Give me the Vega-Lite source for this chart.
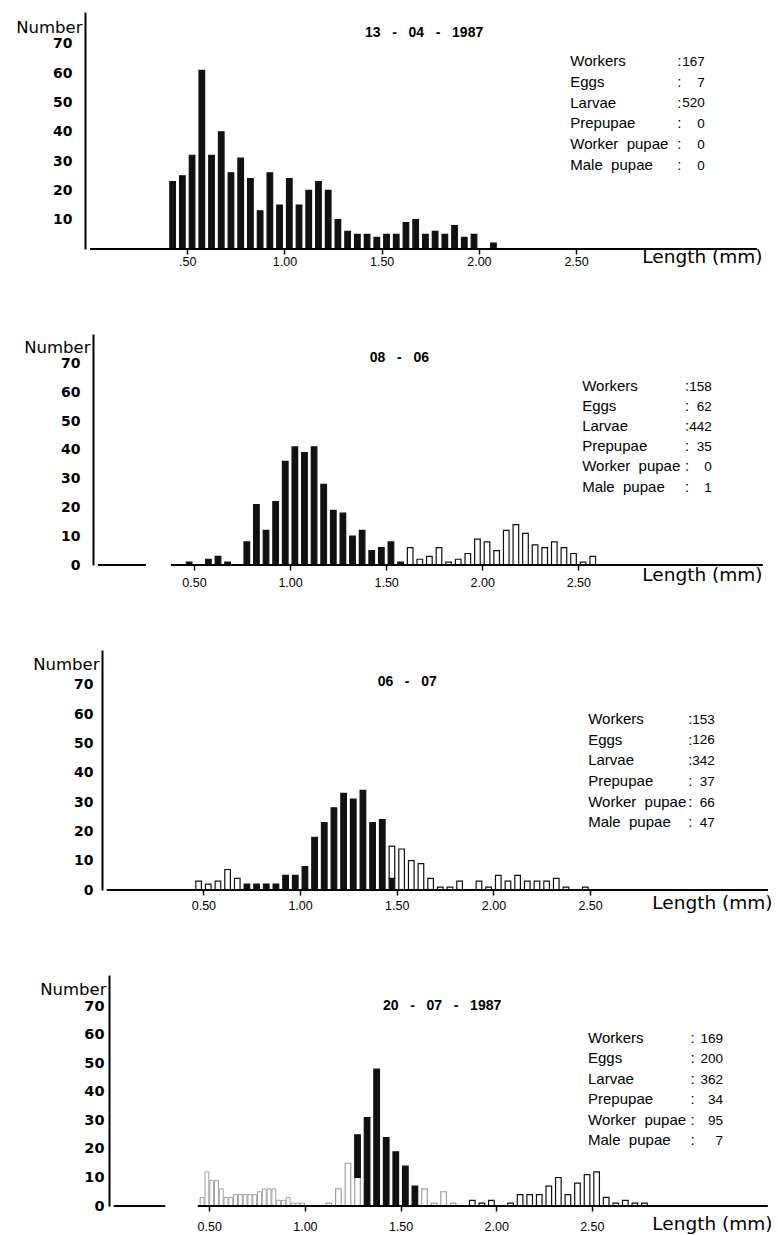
{
  "$schema": "https://vega.github.io/schema/vega-lite/v6.json",
  "padding": {"left": 15, "top": 12, "right": 0, "bottom": 4},
  "background": "white",
  "vconcat": [
    {
      "width": 688, "height": 237,
      "layer": [
        {
          "data": {"name": "p1"},
          "mark": {"type": "bar", "size": 5.6, "strokeWidth": 1.2},
          "encoding": {
            "x": {"field": "mid", "type": "quantitative", "scale": {"domain": [0, 3.487], "nice": false, "zero": false},
              "axis": {"title": "Length (mm)", "titleX": 677, "titleY": 7, "titleAlign": "right", "titleBaseline": "middle", "titleFont": "DejaVu Sans", "titleFontSize": 18.5, "titleFontWeight": "normal", "values": [0.5, 1, 1.5, 2, 2.5], "tickCount": 20, "labelExpr": "datum.value == 0.5 ? '.50' : format(datum.value, '.2f')", "labelFont": "Liberation Sans", "labelFontSize": 12.5, "labelPadding": 1, "labelFlush": false, "labelOverlap": false, "tickSize": 5, "tickWidth": 1.5, "domain": false}},
            "y": {"field": "n", "type": "quantitative", "stack": "zero", "scale": {"domain": [0, 80.89], "nice": false},
              "axis": {"title": "Number", "titleAngle": 0, "titleAlign": "right", "titleBaseline": "middle", "titleX": -3, "titleY": 15, "titleFont": "DejaVu Sans", "titleFontSize": 16.5, "titleFontWeight": "normal", "values": [10, 20, 30, 40, 50, 60, 70], "tickCount": 20, "labelFont": "DejaVu Sans", "labelFontWeight": "bold", "labelFontSize": 14, "labelPadding": 13, "labelFlush": false, "labelOverlap": false, "ticks": false, "domainWidth": 2, "offset": 0}},
            "fill": {"field": "stage", "type": "nominal", "scale": {"domain": ["larvae", "pupae", "pale"], "range": ["#111111", "#ffffff", "#ffffff"]}, "legend": null},
            "stroke": {"field": "stage", "type": "nominal", "scale": {"domain": ["larvae", "pupae", "pale"], "range": ["#111111", "#111111", "#a0a0a0"]}, "legend": null},
            "order": {"field": "stage", "sort": "ascending"}
          }
        },
        {
          "data": {"values": [{"from": 0, "to": 3.43}]},
          "mark": {"type": "rule", "strokeWidth": 2, "color": "#000000"},
          "encoding": {
            "x": {"field": "from", "type": "quantitative", "scale": {"domain": [0, 3.487], "nice": false, "zero": false}},
            "x2": {"field": "to"},
            "y": {"datum": 0, "type": "quantitative", "scale": {"domain": [0, 80.89], "nice": false}}
          }
        },
        {
          "data": {"name": "s1"},
          "mark": {"type": "text", "align": "left", "baseline": "middle", "font": "Liberation Sans", "fontWeight": "bold", "fontSize": 14, "color": "#000"},
          "encoding": {
            "x": {"datum": 1.414, "type": "quantitative", "scale": {"domain": [0, 3.487], "nice": false, "zero": false}},
            "y": {"datum": 73.6, "type": "quantitative", "scale": {"domain": [0, 80.89], "nice": false}},
            "text": {"field": "date"}
          }
        },
        {
          "data": {"name": "s1"},
          "mark": {"type": "text", "align": "left", "baseline": "top", "font": "Liberation Sans", "fontSize": 15, "lineBreak": "\n", "lineHeight": 20.7, "color": "#000"},
          "encoding": {
            "x": {"datum": 2.47, "type": "quantitative", "scale": {"domain": [0, 3.487], "nice": false, "zero": false}},
            "y": {"datum": 66.5, "type": "quantitative", "scale": {"domain": [0, 80.89], "nice": false}},
            "text": {"field": "labels"}
          }
        },
        {
          "data": {"name": "s1"},
          "mark": {"type": "text", "align": "left", "baseline": "top", "font": "Liberation Sans", "fontSize": 15, "lineBreak": "\n", "lineHeight": 20.7, "color": "#000"},
          "encoding": {
            "x": {"datum": 3.02, "type": "quantitative", "scale": {"domain": [0, 3.487], "nice": false, "zero": false}},
            "y": {"datum": 66.5, "type": "quantitative", "scale": {"domain": [0, 80.89], "nice": false}},
            "text": {"field": "colons"}
          }
        },
        {
          "data": {"name": "s1"},
          "mark": {"type": "text", "align": "right", "baseline": "top", "font": "Liberation Sans", "fontSize": 13.5, "lineBreak": "\n", "lineHeight": 20.7, "color": "#000"},
          "encoding": {
            "x": {"datum": 3.162, "type": "quantitative", "scale": {"domain": [0, 3.487], "nice": false, "zero": false}},
            "y": {"datum": 66.2, "type": "quantitative", "scale": {"domain": [0, 80.89], "nice": false}},
            "text": {"field": "counts"}
          }
        }
      ]
    },
    {
      "width": 688, "height": 231,
      "layer": [
        {
          "data": {"name": "p2"},
          "mark": {"type": "bar", "size": 5.6, "strokeWidth": 1.2},
          "encoding": {
            "x": {"field": "mid", "type": "quantitative", "scale": {"domain": [-0.041, 3.487], "nice": false, "zero": false},
              "axis": {"title": "Length (mm)", "titleX": 677, "titleY": 9, "titleAlign": "right", "titleBaseline": "middle", "titleFont": "DejaVu Sans", "titleFontSize": 18.5, "titleFontWeight": "normal", "values": [0.5, 1, 1.5, 2, 2.5], "tickCount": 20, "format": ".2f", "labelFont": "Liberation Sans", "labelFontSize": 12.5, "labelPadding": 6, "labelFlush": false, "labelOverlap": false, "tickSize": 5, "tickWidth": 1.5, "domain": false}},
            "y": {"field": "n", "type": "quantitative", "stack": "zero", "scale": {"domain": [0, 80.21], "nice": false},
              "axis": {"title": "Number", "titleAngle": 0, "titleAlign": "right", "titleBaseline": "middle", "titleX": -3, "titleY": 13, "titleFont": "DejaVu Sans", "titleFontSize": 16.5, "titleFontWeight": "normal", "values": [0, 10, 20, 30, 40, 50, 60, 70], "tickCount": 20, "labelFont": "DejaVu Sans", "labelFontWeight": "bold", "labelFontSize": 14, "labelPadding": 13, "labelFlush": false, "labelOverlap": false, "ticks": false, "domainWidth": 2, "offset": -8}},
            "fill": {"field": "stage", "type": "nominal", "scale": {"domain": ["larvae", "pupae", "pale"], "range": ["#111111", "#ffffff", "#ffffff"]}, "legend": null},
            "stroke": {"field": "stage", "type": "nominal", "scale": {"domain": ["larvae", "pupae", "pale"], "range": ["#111111", "#111111", "#a0a0a0"]}, "legend": null},
            "order": {"field": "stage", "sort": "ascending"}
          }
        },
        {
          "data": {"values": [{"from": 0, "to": 0.25}, {"from": 0.38, "to": 3.46}]},
          "mark": {"type": "rule", "strokeWidth": 2, "color": "#000000"},
          "encoding": {
            "x": {"field": "from", "type": "quantitative", "scale": {"domain": [-0.041, 3.487], "nice": false, "zero": false}},
            "x2": {"field": "to"},
            "y": {"datum": 0, "type": "quantitative", "scale": {"domain": [0, 80.21], "nice": false}}
          }
        },
        {
          "data": {"name": "s2"},
          "mark": {"type": "text", "align": "left", "baseline": "middle", "font": "Liberation Sans", "fontWeight": "bold", "fontSize": 14, "color": "#000"},
          "encoding": {
            "x": {"datum": 1.415, "type": "quantitative", "scale": {"domain": [-0.041, 3.487], "nice": false, "zero": false}},
            "y": {"datum": 71.8, "type": "quantitative", "scale": {"domain": [0, 80.21], "nice": false}},
            "text": {"field": "date"}
          }
        },
        {
          "data": {"name": "s2"},
          "mark": {"type": "text", "align": "left", "baseline": "top", "font": "Liberation Sans", "fontSize": 15, "lineBreak": "\n", "lineHeight": 20.2, "color": "#000"},
          "encoding": {
            "x": {"datum": 2.52, "type": "quantitative", "scale": {"domain": [-0.041, 3.487], "nice": false, "zero": false}},
            "y": {"datum": 64.7, "type": "quantitative", "scale": {"domain": [0, 80.21], "nice": false}},
            "text": {"field": "labels"}
          }
        },
        {
          "data": {"name": "s2"},
          "mark": {"type": "text", "align": "left", "baseline": "top", "font": "Liberation Sans", "fontSize": 15, "lineBreak": "\n", "lineHeight": 20.2, "color": "#000"},
          "encoding": {
            "x": {"datum": 3.055, "type": "quantitative", "scale": {"domain": [-0.041, 3.487], "nice": false, "zero": false}},
            "y": {"datum": 64.7, "type": "quantitative", "scale": {"domain": [0, 80.21], "nice": false}},
            "text": {"field": "colons"}
          }
        },
        {
          "data": {"name": "s2"},
          "mark": {"type": "text", "align": "right", "baseline": "top", "font": "Liberation Sans", "fontSize": 13.5, "lineBreak": "\n", "lineHeight": 20.2, "color": "#000"},
          "encoding": {
            "x": {"datum": 3.195, "type": "quantitative", "scale": {"domain": [-0.041, 3.487], "nice": false, "zero": false}},
            "y": {"datum": 64.4, "type": "quantitative", "scale": {"domain": [0, 80.21], "nice": false}},
            "text": {"field": "counts"}
          }
        }
      ]
    },
    {
      "width": 688, "height": 240,
      "layer": [
        {
          "data": {"name": "p3"},
          "mark": {"type": "bar", "size": 5.6, "strokeWidth": 1.2},
          "encoding": {
            "x": {"field": "mid", "type": "quantitative", "scale": {"domain": [-0.0866, 3.42], "nice": false, "zero": false},
              "axis": {"title": "Length (mm)", "titleX": 687, "titleY": 12, "titleAlign": "right", "titleBaseline": "middle", "titleFont": "DejaVu Sans", "titleFontSize": 18.5, "titleFontWeight": "normal", "values": [0.5, 1, 1.5, 2, 2.5], "tickCount": 20, "format": ".2f", "labelFont": "Liberation Sans", "labelFontSize": 12.5, "labelPadding": 4, "labelFlush": false, "labelOverlap": false, "tickSize": 5, "tickWidth": 1.5, "domain": false}},
            "y": {"field": "n", "type": "quantitative", "stack": "zero", "scale": {"domain": [0, 81.91], "nice": false},
              "axis": {"title": "Number", "titleAngle": 0, "titleAlign": "right", "titleBaseline": "middle", "titleX": -3, "titleY": 14, "titleFont": "DejaVu Sans", "titleFontSize": 16.5, "titleFontWeight": "normal", "values": [0, 10, 20, 30, 40, 50, 60, 70], "tickCount": 20, "labelFont": "DejaVu Sans", "labelFontWeight": "bold", "labelFontSize": 14, "labelPadding": 9, "labelFlush": false, "labelOverlap": false, "ticks": false, "domainWidth": 2, "offset": -17}},
            "fill": {"field": "stage", "type": "nominal", "scale": {"domain": ["larvae", "pupae", "pale"], "range": ["#111111", "#ffffff", "#ffffff"]}, "legend": null},
            "stroke": {"field": "stage", "type": "nominal", "scale": {"domain": ["larvae", "pupae", "pale"], "range": ["#111111", "#111111", "#a0a0a0"]}, "legend": null},
            "order": {"field": "stage", "sort": "ascending"}
          }
        },
        {
          "data": {"values": [{"from": 0, "to": 3.42}]},
          "mark": {"type": "rule", "strokeWidth": 2, "color": "#000000"},
          "encoding": {
            "x": {"field": "from", "type": "quantitative", "scale": {"domain": [-0.0866, 3.42], "nice": false, "zero": false}},
            "x2": {"field": "to"},
            "y": {"datum": 0, "type": "quantitative", "scale": {"domain": [0, 81.91], "nice": false}}
          }
        },
        {
          "data": {"name": "s3"},
          "mark": {"type": "text", "align": "left", "baseline": "middle", "font": "Liberation Sans", "fontWeight": "bold", "fontSize": 14, "color": "#000"},
          "encoding": {
            "x": {"datum": 1.401, "type": "quantitative", "scale": {"domain": [-0.0866, 3.42], "nice": false, "zero": false}},
            "y": {"datum": 70.9, "type": "quantitative", "scale": {"domain": [0, 81.91], "nice": false}},
            "text": {"field": "date"}
          }
        },
        {
          "data": {"name": "s3"},
          "mark": {"type": "text", "align": "left", "baseline": "top", "font": "Liberation Sans", "fontSize": 15, "lineBreak": "\n", "lineHeight": 20.7, "color": "#000"},
          "encoding": {
            "x": {"datum": 2.49, "type": "quantitative", "scale": {"domain": [-0.0866, 3.42], "nice": false, "zero": false}},
            "y": {"datum": 60.8, "type": "quantitative", "scale": {"domain": [0, 81.91], "nice": false}},
            "text": {"field": "labels"}
          }
        },
        {
          "data": {"name": "s3"},
          "mark": {"type": "text", "align": "left", "baseline": "top", "font": "Liberation Sans", "fontSize": 15, "lineBreak": "\n", "lineHeight": 20.7, "color": "#000"},
          "encoding": {
            "x": {"datum": 3.007, "type": "quantitative", "scale": {"domain": [-0.0866, 3.42], "nice": false, "zero": false}},
            "y": {"datum": 60.8, "type": "quantitative", "scale": {"domain": [0, 81.91], "nice": false}},
            "text": {"field": "colons"}
          }
        },
        {
          "data": {"name": "s3"},
          "mark": {"type": "text", "align": "right", "baseline": "top", "font": "Liberation Sans", "fontSize": 13.5, "lineBreak": "\n", "lineHeight": 20.7, "color": "#000"},
          "encoding": {
            "x": {"datum": 3.145, "type": "quantitative", "scale": {"domain": [-0.0866, 3.42], "nice": false, "zero": false}},
            "y": {"datum": 60.5, "type": "quantitative", "scale": {"domain": [0, 81.91], "nice": false}},
            "text": {"field": "counts"}
          }
        }
      ]
    },
    {
      "width": 688, "height": 231,
      "layer": [
        {
          "data": {"name": "p4fine"},
          "mark": {"type": "bar", "size": 3.9, "strokeWidth": 1},
          "encoding": {
            "x": {"field": "mid", "type": "quantitative", "scale": {"domain": [-0.1236, 3.421], "nice": false, "zero": false}},
            "y": {"field": "n", "type": "quantitative", "scale": {"domain": [0, 81.05], "nice": false}},
            "fill": {"field": "stage", "type": "nominal", "scale": {"domain": ["larvae", "pupae", "pale"], "range": ["#111111", "#ffffff", "#ffffff"]}, "legend": null},
            "stroke": {"field": "stage", "type": "nominal", "scale": {"domain": ["larvae", "pupae", "pale"], "range": ["#111111", "#111111", "#a0a0a0"]}, "legend": null}
          }
        },
        {
          "data": {"name": "p4"},
          "mark": {"type": "bar", "size": 5.6, "strokeWidth": 1.2},
          "encoding": {
            "x": {"field": "mid", "type": "quantitative", "scale": {"domain": [-0.1236, 3.421], "nice": false, "zero": false},
              "axis": {"title": "Length (mm)", "titleX": 687, "titleY": 17, "titleAlign": "right", "titleBaseline": "middle", "titleFont": "DejaVu Sans", "titleFontSize": 18.5, "titleFontWeight": "normal", "values": [0.5, 1, 1.5, 2, 2.5], "tickCount": 20, "format": ".2f", "labelFont": "Liberation Sans", "labelFontSize": 12.5, "labelPadding": 9, "labelFlush": false, "labelOverlap": false, "tickSize": 5, "tickWidth": 1.5, "domain": false}},
            "y": {"field": "n", "type": "quantitative", "stack": "zero", "scale": {"domain": [0, 81.05], "nice": false},
              "axis": {"title": "Number", "titleAngle": 0, "titleAlign": "right", "titleBaseline": "middle", "titleX": -3, "titleY": 14, "titleFont": "DejaVu Sans", "titleFontSize": 16.5, "titleFontWeight": "normal", "values": [0, 10, 20, 30, 40, 50, 60, 70], "tickCount": 20, "labelFont": "DejaVu Sans", "labelFontWeight": "bold", "labelFontSize": 14.5, "labelPadding": 5, "labelFlush": false, "labelOverlap": false, "ticks": false, "domainWidth": 2, "offset": -24}},
            "fill": {"field": "stage", "type": "nominal", "scale": {"domain": ["larvae", "pupae", "pale"], "range": ["#111111", "#ffffff", "#ffffff"]}, "legend": null},
            "stroke": {"field": "stage", "type": "nominal", "scale": {"domain": ["larvae", "pupae", "pale"], "range": ["#111111", "#111111", "#a0a0a0"]}, "legend": null},
            "order": {"field": "stage", "sort": "descending"}
          }
        },
        {
          "data": {"values": [{"from": 0, "to": 0.27}, {"from": 0.44, "to": 3.42}]},
          "mark": {"type": "rule", "strokeWidth": 2, "color": "#000000"},
          "encoding": {
            "x": {"field": "from", "type": "quantitative", "scale": {"domain": [-0.1236, 3.421], "nice": false, "zero": false}},
            "x2": {"field": "to"},
            "y": {"datum": 0, "type": "quantitative", "scale": {"domain": [0, 81.05], "nice": false}}
          }
        },
        {
          "data": {"name": "s4"},
          "mark": {"type": "text", "align": "left", "baseline": "middle", "font": "Liberation Sans", "fontWeight": "bold", "fontSize": 14, "color": "#000"},
          "encoding": {
            "x": {"datum": 1.408, "type": "quantitative", "scale": {"domain": [-0.1236, 3.421], "nice": false, "zero": false}},
            "y": {"datum": 70.1, "type": "quantitative", "scale": {"domain": [0, 81.05], "nice": false}},
            "text": {"field": "date"}
          }
        },
        {
          "data": {"name": "s4"},
          "mark": {"type": "text", "align": "left", "baseline": "top", "font": "Liberation Sans", "fontSize": 15, "lineBreak": "\n", "lineHeight": 20.5, "color": "#000"},
          "encoding": {
            "x": {"datum": 2.48, "type": "quantitative", "scale": {"domain": [-0.1236, 3.421], "nice": false, "zero": false}},
            "y": {"datum": 61.5, "type": "quantitative", "scale": {"domain": [0, 81.05], "nice": false}},
            "text": {"field": "labels"}
          }
        },
        {
          "data": {"name": "s4"},
          "mark": {"type": "text", "align": "left", "baseline": "top", "font": "Liberation Sans", "fontSize": 15, "lineBreak": "\n", "lineHeight": 20.5, "color": "#000"},
          "encoding": {
            "x": {"datum": 3.016, "type": "quantitative", "scale": {"domain": [-0.1236, 3.421], "nice": false, "zero": false}},
            "y": {"datum": 61.5, "type": "quantitative", "scale": {"domain": [0, 81.05], "nice": false}},
            "text": {"field": "colons"}
          }
        },
        {
          "data": {"name": "s4"},
          "mark": {"type": "text", "align": "right", "baseline": "top", "font": "Liberation Sans", "fontSize": 13.5, "lineBreak": "\n", "lineHeight": 20.5, "color": "#000"},
          "encoding": {
            "x": {"datum": 3.186, "type": "quantitative", "scale": {"domain": [-0.1236, 3.421], "nice": false, "zero": false}},
            "y": {"datum": 61.2, "type": "quantitative", "scale": {"domain": [0, 81.05], "nice": false}},
            "text": {"field": "counts"}
          }
        }
      ]
    }
  ],
  "spacing": 85,
  "bounds": "flush",
  "config": {
    "view": {"stroke": null},
    "axis": {"grid": false, "domainColor": "#000000", "tickColor": "#000000", "labelColor": "#000000", "titleColor": "#000000", "labelOverlap": false}
  },
  "datasets": {
    "s1": [{"date": "13\u00a0\u00a0\u00a0-\u00a0\u00a0\u00a004\u00a0\u00a0\u00a0-\u00a0\u00a0\u00a01987", "labels": "Workers\nEggs\nLarvae\nPrepupae\nWorker\u00a0\u00a0pupae\nMale\u00a0\u00a0pupae", "colons": ":\n:\n:\n:\n:\n:", "counts": "167\n7\n520\n0\n0\n0"}],
    "s2": [{"date": "08\u00a0\u00a0\u00a0-\u00a0\u00a0\u00a006", "labels": "Workers\nEggs\nLarvae\nPrepupae\nWorker\u00a0\u00a0pupae\nMale\u00a0\u00a0pupae", "colons": ":\n:\n:\n:\n:\n:", "counts": "158\n62\n442\n35\n0\n1"}],
    "s3": [{"date": "06\u00a0\u00a0\u00a0-\u00a0\u00a0\u00a007", "labels": "Workers\nEggs\nLarvae\nPrepupae\nWorker\u00a0\u00a0pupae\nMale\u00a0\u00a0pupae", "colons": ":\n:\n:\n:\n:\n:", "counts": "153\n126\n342\n37\n66\n47"}],
    "s4": [{"date": "20\u00a0\u00a0\u00a0-\u00a0\u00a0\u00a007\u00a0\u00a0\u00a0-\u00a0\u00a0\u00a01987", "labels": "Workers\nEggs\nLarvae\nPrepupae\nWorker\u00a0\u00a0pupae\nMale\u00a0\u00a0pupae", "colons": ":\n:\n:\n:\n:\n:", "counts": "169\n200\n362\n34\n95\n7"}],
    "p1": [
      {"mid": 0.425, "n": 23, "stage": "larvae"}, {"mid": 0.475, "n": 25, "stage": "larvae"}, {"mid": 0.525, "n": 32, "stage": "larvae"},
      {"mid": 0.575, "n": 61, "stage": "larvae"}, {"mid": 0.625, "n": 32, "stage": "larvae"}, {"mid": 0.675, "n": 40, "stage": "larvae"},
      {"mid": 0.725, "n": 26, "stage": "larvae"}, {"mid": 0.775, "n": 31, "stage": "larvae"}, {"mid": 0.825, "n": 24, "stage": "larvae"},
      {"mid": 0.875, "n": 13, "stage": "larvae"}, {"mid": 0.925, "n": 26, "stage": "larvae"}, {"mid": 0.975, "n": 15, "stage": "larvae"},
      {"mid": 1.025, "n": 24, "stage": "larvae"}, {"mid": 1.075, "n": 15, "stage": "larvae"}, {"mid": 1.125, "n": 20, "stage": "larvae"},
      {"mid": 1.175, "n": 23, "stage": "larvae"}, {"mid": 1.225, "n": 20, "stage": "larvae"}, {"mid": 1.275, "n": 10, "stage": "larvae"},
      {"mid": 1.325, "n": 6, "stage": "larvae"}, {"mid": 1.375, "n": 5, "stage": "larvae"}, {"mid": 1.425, "n": 5, "stage": "larvae"},
      {"mid": 1.475, "n": 4, "stage": "larvae"}, {"mid": 1.525, "n": 5, "stage": "larvae"}, {"mid": 1.575, "n": 5, "stage": "larvae"},
      {"mid": 1.625, "n": 9, "stage": "larvae"}, {"mid": 1.675, "n": 10, "stage": "larvae"}, {"mid": 1.725, "n": 5, "stage": "larvae"},
      {"mid": 1.775, "n": 6, "stage": "larvae"}, {"mid": 1.825, "n": 5, "stage": "larvae"}, {"mid": 1.875, "n": 8, "stage": "larvae"},
      {"mid": 1.925, "n": 4, "stage": "larvae"}, {"mid": 1.975, "n": 5, "stage": "larvae"}, {"mid": 2.075, "n": 2, "stage": "larvae"}
    ],
    "p2": [
      {"mid": 0.475, "n": 1, "stage": "larvae"}, {"mid": 0.575, "n": 2, "stage": "larvae"}, {"mid": 0.625, "n": 3, "stage": "larvae"},
      {"mid": 0.675, "n": 1, "stage": "larvae"}, {"mid": 0.775, "n": 8, "stage": "larvae"}, {"mid": 0.825, "n": 21, "stage": "larvae"},
      {"mid": 0.875, "n": 12, "stage": "larvae"}, {"mid": 0.925, "n": 22, "stage": "larvae"}, {"mid": 0.975, "n": 36, "stage": "larvae"},
      {"mid": 1.025, "n": 41, "stage": "larvae"}, {"mid": 1.075, "n": 39, "stage": "larvae"}, {"mid": 1.125, "n": 41, "stage": "larvae"},
      {"mid": 1.175, "n": 28, "stage": "larvae"}, {"mid": 1.225, "n": 19, "stage": "larvae"}, {"mid": 1.275, "n": 18, "stage": "larvae"},
      {"mid": 1.325, "n": 10, "stage": "larvae"}, {"mid": 1.375, "n": 12, "stage": "larvae"}, {"mid": 1.425, "n": 5, "stage": "larvae"},
      {"mid": 1.475, "n": 6, "stage": "larvae"}, {"mid": 1.525, "n": 8, "stage": "larvae"}, {"mid": 1.575, "n": 1, "stage": "larvae"},
      {"mid": 1.625, "n": 6, "stage": "pupae"}, {"mid": 1.675, "n": 2, "stage": "pupae"}, {"mid": 1.725, "n": 3, "stage": "pupae"},
      {"mid": 1.775, "n": 6, "stage": "pupae"}, {"mid": 1.825, "n": 1, "stage": "pupae"}, {"mid": 1.875, "n": 2, "stage": "pupae"},
      {"mid": 1.925, "n": 4, "stage": "pupae"}, {"mid": 1.975, "n": 9, "stage": "pupae"}, {"mid": 2.025, "n": 8, "stage": "pupae"},
      {"mid": 2.075, "n": 5, "stage": "pupae"}, {"mid": 2.125, "n": 12, "stage": "pupae"}, {"mid": 2.175, "n": 14, "stage": "pupae"},
      {"mid": 2.225, "n": 11, "stage": "pupae"}, {"mid": 2.275, "n": 7, "stage": "pupae"}, {"mid": 2.325, "n": 6, "stage": "pupae"},
      {"mid": 2.375, "n": 8, "stage": "pupae"}, {"mid": 2.425, "n": 6, "stage": "pupae"}, {"mid": 2.475, "n": 4, "stage": "pupae"},
      {"mid": 2.525, "n": 1, "stage": "pupae"}, {"mid": 2.575, "n": 3, "stage": "pupae"}
    ],
    "p3": [
      {"mid": 0.475, "n": 3, "stage": "pupae"}, {"mid": 0.525, "n": 2, "stage": "pupae"}, {"mid": 0.575, "n": 3, "stage": "pupae"},
      {"mid": 0.625, "n": 7, "stage": "pupae"}, {"mid": 0.675, "n": 4, "stage": "pupae"}, {"mid": 0.725, "n": 2, "stage": "larvae"},
      {"mid": 0.775, "n": 2, "stage": "larvae"}, {"mid": 0.825, "n": 2, "stage": "larvae"}, {"mid": 0.875, "n": 2, "stage": "larvae"},
      {"mid": 0.925, "n": 5, "stage": "larvae"}, {"mid": 0.975, "n": 5, "stage": "larvae"}, {"mid": 1.025, "n": 8, "stage": "larvae"},
      {"mid": 1.075, "n": 18, "stage": "larvae"}, {"mid": 1.125, "n": 23, "stage": "larvae"}, {"mid": 1.175, "n": 28, "stage": "larvae"},
      {"mid": 1.225, "n": 33, "stage": "larvae"}, {"mid": 1.275, "n": 31, "stage": "larvae"}, {"mid": 1.325, "n": 34, "stage": "larvae"},
      {"mid": 1.375, "n": 23, "stage": "larvae"}, {"mid": 1.425, "n": 24, "stage": "larvae"}, {"mid": 1.475, "n": 4, "stage": "larvae"},
      {"mid": 1.475, "n": 11, "stage": "pupae"}, {"mid": 1.525, "n": 14, "stage": "pupae"}, {"mid": 1.575, "n": 10, "stage": "pupae"},
      {"mid": 1.625, "n": 9, "stage": "pupae"}, {"mid": 1.675, "n": 4, "stage": "pupae"}, {"mid": 1.725, "n": 1, "stage": "pupae"},
      {"mid": 1.775, "n": 1, "stage": "pupae"}, {"mid": 1.825, "n": 3, "stage": "pupae"}, {"mid": 1.925, "n": 3, "stage": "pupae"},
      {"mid": 1.975, "n": 1, "stage": "pupae"}, {"mid": 2.025, "n": 5, "stage": "pupae"}, {"mid": 2.075, "n": 3, "stage": "pupae"},
      {"mid": 2.125, "n": 5, "stage": "pupae"}, {"mid": 2.175, "n": 3, "stage": "pupae"}, {"mid": 2.225, "n": 3, "stage": "pupae"},
      {"mid": 2.275, "n": 3, "stage": "pupae"}, {"mid": 2.325, "n": 4, "stage": "pupae"}, {"mid": 2.375, "n": 1, "stage": "pupae"},
      {"mid": 2.475, "n": 1, "stage": "pupae"}
    ],
    "p4fine": [
      {"mid": 0.4625, "n": 3, "stage": "pale"}, {"mid": 0.4875, "n": 12, "stage": "pale"}, {"mid": 0.5125, "n": 9, "stage": "pale"},
      {"mid": 0.5375, "n": 9, "stage": "pale"}, {"mid": 0.5625, "n": 6, "stage": "pale"}, {"mid": 0.5875, "n": 3, "stage": "pale"},
      {"mid": 0.6125, "n": 3, "stage": "pale"}, {"mid": 0.6375, "n": 4, "stage": "pale"}, {"mid": 0.6625, "n": 4, "stage": "pale"},
      {"mid": 0.6875, "n": 4, "stage": "pale"}, {"mid": 0.7125, "n": 4, "stage": "pale"}, {"mid": 0.7375, "n": 4, "stage": "pale"},
      {"mid": 0.7625, "n": 5, "stage": "pale"}, {"mid": 0.7875, "n": 6, "stage": "pale"}, {"mid": 0.8125, "n": 6, "stage": "pale"},
      {"mid": 0.8375, "n": 6, "stage": "pale"}, {"mid": 0.8625, "n": 2, "stage": "pale"}, {"mid": 0.8875, "n": 2, "stage": "pale"},
      {"mid": 0.9125, "n": 3, "stage": "pale"}, {"mid": 0.9375, "n": 1, "stage": "pale"}, {"mid": 0.9625, "n": 1, "stage": "pale"},
      {"mid": 0.9875, "n": 1, "stage": "pale"}
    ],
    "p4": [
      {"mid": 1.125, "n": 1, "stage": "pale"}, {"mid": 1.175, "n": 6, "stage": "pale"}, {"mid": 1.225, "n": 15, "stage": "pale"},
      {"mid": 1.275, "n": 10, "stage": "pale"}, {"mid": 1.275, "n": 15, "stage": "larvae"}, {"mid": 1.325, "n": 31, "stage": "larvae"},
      {"mid": 1.375, "n": 48, "stage": "larvae"}, {"mid": 1.425, "n": 24, "stage": "larvae"}, {"mid": 1.475, "n": 19, "stage": "larvae"},
      {"mid": 1.525, "n": 14, "stage": "larvae"}, {"mid": 1.575, "n": 7, "stage": "larvae"}, {"mid": 1.625, "n": 6, "stage": "pale"},
      {"mid": 1.675, "n": 1, "stage": "pale"}, {"mid": 1.725, "n": 5, "stage": "pale"}, {"mid": 1.775, "n": 1, "stage": "pale"},
      {"mid": 1.875, "n": 2, "stage": "pupae"}, {"mid": 1.925, "n": 1, "stage": "pupae"}, {"mid": 1.975, "n": 2, "stage": "pupae"},
      {"mid": 2.075, "n": 1, "stage": "pupae"}, {"mid": 2.125, "n": 4, "stage": "pupae"}, {"mid": 2.175, "n": 4, "stage": "pupae"},
      {"mid": 2.225, "n": 4, "stage": "pupae"}, {"mid": 2.275, "n": 7, "stage": "pupae"}, {"mid": 2.325, "n": 10, "stage": "pupae"},
      {"mid": 2.375, "n": 4, "stage": "pupae"}, {"mid": 2.425, "n": 8, "stage": "pupae"}, {"mid": 2.475, "n": 11, "stage": "pupae"},
      {"mid": 2.525, "n": 12, "stage": "pupae"}, {"mid": 2.575, "n": 3, "stage": "pupae"}, {"mid": 2.625, "n": 1, "stage": "pupae"},
      {"mid": 2.675, "n": 2, "stage": "pupae"}, {"mid": 2.725, "n": 1, "stage": "pupae"}, {"mid": 2.775, "n": 1, "stage": "pupae"}
    ]
  }
}
